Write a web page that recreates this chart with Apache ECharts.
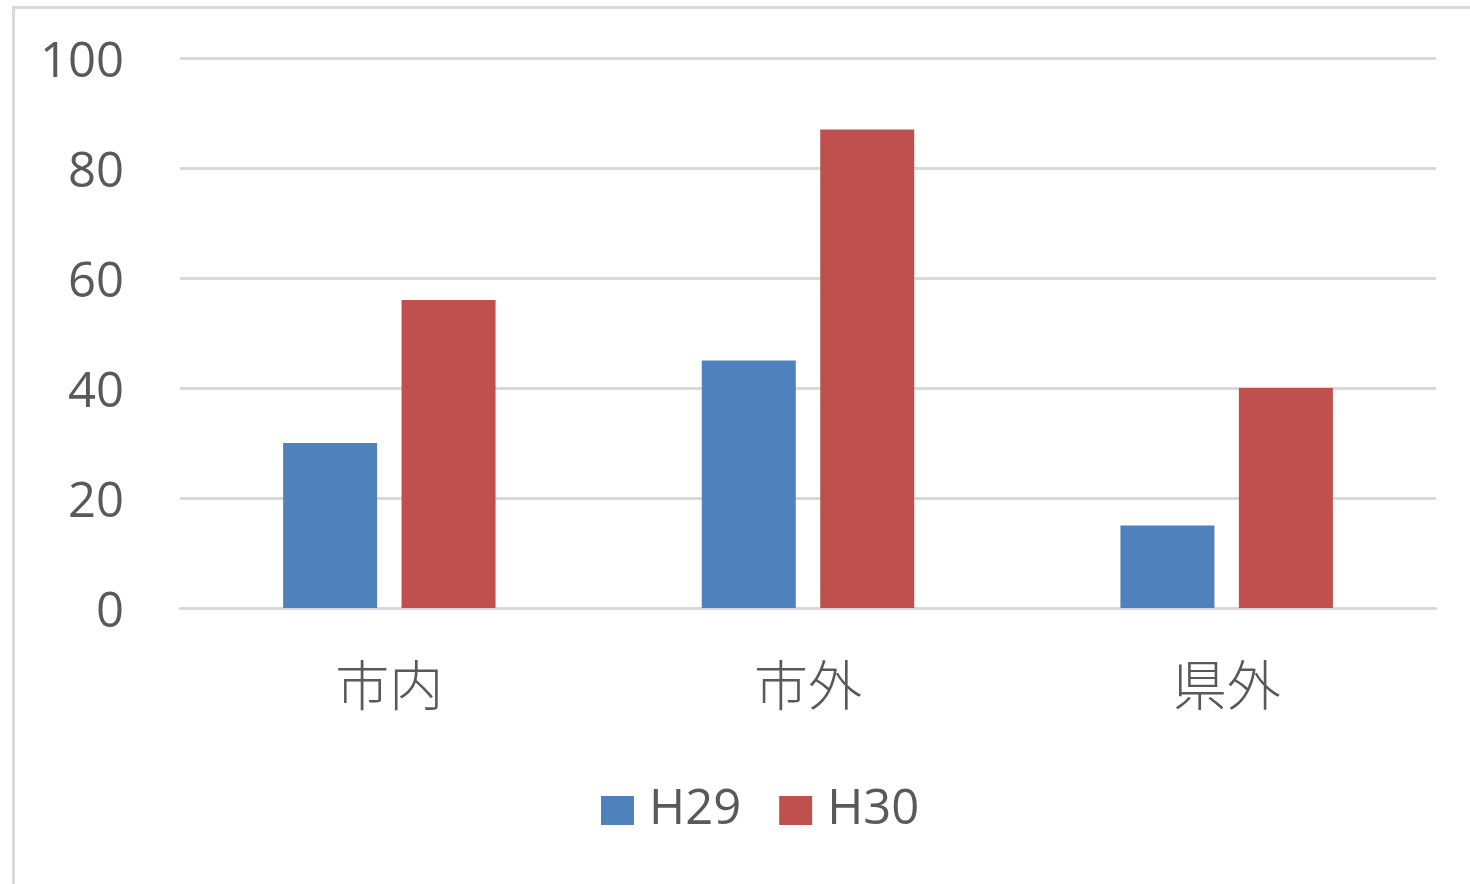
<!DOCTYPE html>
<html>
<head>
<meta charset="utf-8">
<style>
  html, body { margin: 0; padding: 0; background: #fff; }
  #chart-container { width: 1470px; height: 884px; }
</style>
<script src="https://cdn.jsdelivr.net/npm/echarts@6/dist/echarts.min.js"></script>
</head>
<body>
<div id="chart-container"></div>
<script>
var dom = document.getElementById("chart-container");
var myChart = echarts.init(dom, null, { renderer: "canvas" });

const categories = ["市内", "市外", "県外"];
const seriesNames = ["H29", "H30"];
const h29Values = [30, 45, 15];
const h30Values = [56, 87, 40];

const textColor = "#595959";
const fontFamily = "'Open Sans', 'Noto Sans CJK JP', sans-serif";

var option = {
  animation: false,
  backgroundColor: "#fff",
  textStyle: { fontFamily: fontFamily },
  graphic: [
    {
      // outer chart border (only left/top visible)
      type: "rect",
      left: 11,
      top: 5,
      shape: { width: 1500, height: 900 },
      style: { fill: "none", stroke: "#d9d9d9", lineWidth: 3 },
      silent: true,
    },
  ],
  grid: { left: 180, right: 34, top: 58, bottom: 276 },
  legend: {
    data: seriesNames,
    left: 596,
    top: 781,
    itemWidth: 33,
    itemHeight: 29,
    itemGap: 38,
    icon: "rect",
    textStyle: {
      color: textColor,
      fontSize: 49,
      fontFamily: fontFamily,
      padding: [0, 0, 0, 10],
    },
  },
  xAxis: {
    type: "category",
    data: categories,
    axisLine: { show: true, lineStyle: { color: "#d9d9d9", width: 3 } },
    axisTick: { show: false },
    axisLabel: {
      color: textColor,
      fontSize: 54,
      margin: 50,
      fontFamily: "'Noto Sans CJK JP', sans-serif",
      fontWeight: 300,
    },
  },
  yAxis: {
    type: "value",
    min: 0,
    max: 100,
    interval: 20,
    axisLine: { show: false },
    axisTick: { show: false },
    splitLine: { lineStyle: { color: "#d9d9d9", width: 3 } },
    axisLabel: {
      margin: 56,
      formatter: "{v|{value}}",
      rich: {
        v: {
          color: textColor,
          fontSize: 49,
          fontFamily: fontFamily,
          padding: [10, 0, 0, 0],
        },
      },
    },
  },
  series: [
    {
      name: seriesNames[0],
      type: "bar",
      data: h29Values,
      barWidth: 94,
      barGap: "26%",
      itemStyle: { color: "#4F81BD" },
    },
    {
      name: seriesNames[1],
      type: "bar",
      data: h30Values,
      barWidth: 94,
      itemStyle: { color: "#C0504D" },
    },
  ],
};

myChart.setOption(option);
window.addEventListener("resize", myChart.resize);
</script>
</body>
</html>
